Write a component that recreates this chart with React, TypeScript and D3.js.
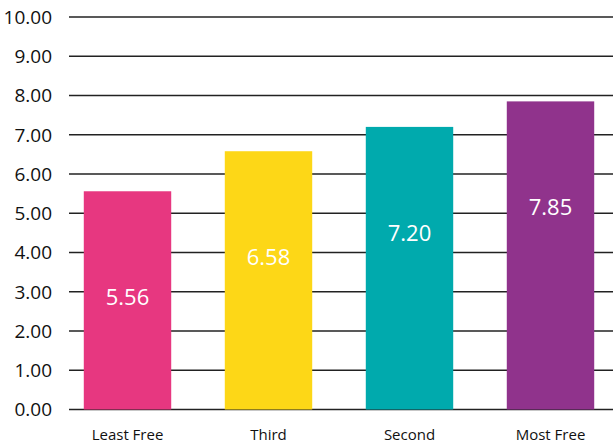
import React, { useEffect, useRef } from 'react';
import * as d3 from 'd3';

const categories = ['Least Free', 'Third', 'Second', 'Most Free'];
const values = [5.56, 6.58, 7.2, 7.85];
const barColors = ['#E73780', '#FDD717', '#00AAAD', '#90338C'];
const yTicks = [0, 1, 2, 3, 4, 5, 6, 7, 8, 9, 10];

const App: React.FC = () => {
  const chartRef = useRef<HTMLDivElement>(null);

  useEffect(() => {
    if (!chartRef.current) return;

    const width = 616;
    const height = 445;
    const font = '"Open Sans", "Noto Sans", sans-serif';

    d3.select(chartRef.current).select('svg').remove();

    const svg = d3
      .select(chartRef.current)
      .append('svg')
      .attr('width', width)
      .attr('height', height)
      .style('display', 'block');

    const xScale = d3
      .scaleBand<string>()
      .domain(categories)
      .range([57, 621])
      .paddingInner(0.38)
      .paddingOuter(0.19);

    const yScale = d3.scaleLinear().domain([0, 10]).range([409.5, 17]);

    // grid lines
    svg
      .append('g')
      .selectAll('line')
      .data(yTicks)
      .enter()
      .append('line')
      .attr('x1', 69)
      .attr('x2', 613)
      .attr('y1', (d) => yScale(d))
      .attr('y2', (d) => yScale(d))
      .attr('stroke', '#222')
      .attr('stroke-width', 1.4);

    // y labels
    svg
      .append('g')
      .selectAll('text')
      .data(yTicks)
      .enter()
      .append('text')
      .attr('x', 52)
      .attr('y', (d) => yScale(d))
      .attr('dy', '0.36em')
      .attr('text-anchor', 'end')
      .attr('font-family', font)
      .attr('font-size', 19)
      .attr('fill', '#111')
      .text((d) => d3.format('.2f')(d));

    // bars
    svg
      .append('g')
      .selectAll('rect')
      .data(values)
      .enter()
      .append('rect')
      .attr('x', (d, i) => xScale(categories[i])!)
      .attr('y', (d) => yScale(d))
      .attr('width', xScale.bandwidth())
      .attr('height', (d) => yScale(0) - yScale(d))
      .attr('fill', (d, i) => barColors[i]);

    // value labels
    svg
      .append('g')
      .selectAll('text')
      .data(values)
      .enter()
      .append('text')
      .attr('x', (d, i) => xScale(categories[i])! + xScale.bandwidth() / 2)
      .attr('y', (d) => yScale(d) + 114)
      .attr('text-anchor', 'middle')
      .attr('font-family', font)
      .attr('font-size', 22)
      .attr('fill', '#fff')
      .text((d) => d3.format('.2f')(d));

    // category labels
    svg
      .append('g')
      .selectAll('text')
      .data(categories)
      .enter()
      .append('text')
      .attr('x', (d) => xScale(d)! + xScale.bandwidth() / 2)
      .attr('y', 440)
      .attr('text-anchor', 'middle')
      .attr('font-family', font)
      .attr('font-size', 15)
      .attr('fill', '#111')
      .text((d) => d);
  }, []);

  return (
    <div
      ref={chartRef}
      style={{ position: 'absolute', left: 0, top: 0 }}
    ></div>
  );
};

export default App;
